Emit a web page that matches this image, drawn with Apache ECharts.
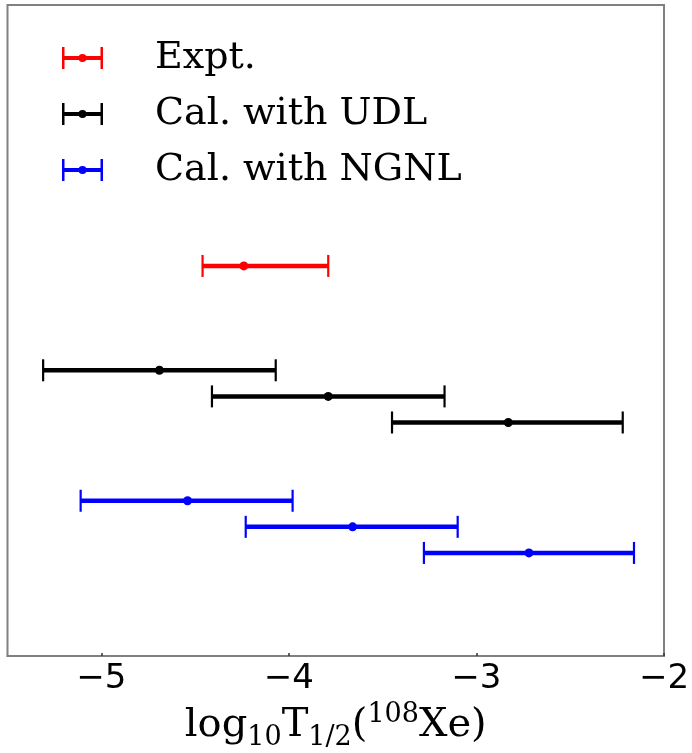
<!DOCTYPE html>
<html><head><meta charset="utf-8">
<script src="https://cdn.jsdelivr.net/npm/echarts@6/dist/echarts.min.js"></script>
<style>html,body{margin:0;padding:0;background:#fff}#c{width:692px;height:753px}</style>
</head><body><div id="c"></div>
<script>
// ---- data ----
const seriesNames = ['Expt.', 'Cal. with UDL', 'Cal. with NGNL'];
const xTicks = [-5, -4, -3, -2];
// Expt.
const exptCenter = [-4.24];
const exptLow = [-4.46];
const exptHigh = [-3.79];
const exptRow = [15];
// Cal. with UDL
const udlCenter = [-4.69, -3.79, -2.83];
const udlLow = [-5.31, -4.41, -3.45];
const udlHigh = [-4.07, -3.17, -2.22];
const udlRow = [11, 10, 9];
// Cal. with NGNL
const ngnlCenter = [-4.54, -3.66, -2.72];
const ngnlLow = [-5.11, -4.23, -3.28];
const ngnlHigh = [-3.98, -3.10, -2.16];
const ngnlRow = [6, 5, 4];

function rows(c, lo, hi, r) {
  return c.map((v, i) => [v, lo[i], hi[i], r[i]]);
}

function renderErr(params, api) {
  const y = api.value(3);
  const c = api.coord([api.value(0), y]);
  const lo = api.coord([api.value(1), y]);
  const hi = api.coord([api.value(2), y]);
  const color = api.visual('color');
  const h = 11;
  return {
    type: 'group',
    children: [
      { type: 'line', shape: { x1: lo[0], y1: lo[1], x2: hi[0], y2: hi[1] }, style: { stroke: color, lineWidth: 4.5 } },
      { type: 'line', shape: { x1: lo[0], y1: lo[1] - h, x2: lo[0], y2: lo[1] + h }, style: { stroke: color, lineWidth: 2.2 } },
      { type: 'line', shape: { x1: hi[0], y1: hi[1] - h, x2: hi[0], y2: hi[1] + h }, style: { stroke: color, lineWidth: 2.2 } },
      { type: 'circle', shape: { cx: c[0], cy: c[1], r: 4.5 }, style: { fill: color } }
    ]
  };
}

const errIcon = 'path://M0,9 L41,9 L41,13 L0,13 Z M0,0 L2.5,0 L2.5,22 L0,22 Z M38.5,0 L41,0 L41,22 L38.5,22 Z M16.5,11 A4,4 0 1,1 24.5,11 A4,4 0 1,1 16.5,11 Z';

const colors = ['#ff0000', '#000000', '#0000ff'];
const allData = [
  rows(exptCenter, exptLow, exptHigh, exptRow),
  rows(udlCenter, udlLow, udlHigh, udlRow),
  rows(ngnlCenter, ngnlLow, ngnlHigh, ngnlRow)
];

const chart = echarts.init(document.getElementById('c'), null, { renderer: 'canvas' });
chart.setOption({
  animation: false,
  backgroundColor: '#ffffff',
  grid: {
    left: 7.5, right: 28, top: 5, bottom: 97,
    outerBoundsMode: 'none', containLabel: false,
    show: true, borderColor: '#808080', borderWidth: 2, backgroundColor: 'transparent'
  },
  legend: {
    orient: 'vertical',
    left: 57, top: 34,
    itemWidth: 41, itemHeight: 22, itemGap: 18,
    selectedMode: false,
    data: seriesNames.map(n => ({ name: n, icon: errIcon })),
    textStyle: { fontFamily: 'DejaVu Serif', fontSize: 38, color: '#000', padding: [0, 0, 0, 47] }
  },
  xAxis: {
    type: 'value', min: -5.5, max: -2,
    splitLine: { show: false },
    axisLine: { show: true, onZero: false, lineStyle: { color: '#808080', width: 2 } },
    axisTick: { show: true, inside: true, length: 3, customValues: xTicks, lineStyle: { color: '#333', width: 1.5 } },
    axisLabel: {
      fontFamily: 'DejaVu Sans', fontSize: 34, color: '#000', margin: 6,
      customValues: xTicks,
      formatter: v => String(v).replace('-', '\u2212')
    },
    name: '{a|log}{sub|10}{a|T}{sub|1/2}{a|(}{sup|108}{a|Xe)}',
    nameLocation: 'middle', nameGap: 45,
    nameTextStyle: {
      rich: {
        a: { fontFamily: 'DejaVu Serif', fontSize: 40, color: '#000', lineHeight: 50, verticalAlign: 'middle' },
        sub: { fontFamily: 'DejaVu Serif', fontSize: 27, color: '#000', lineHeight: 29, verticalAlign: 'bottom' },
        sup: { fontFamily: 'DejaVu Serif', fontSize: 27, color: '#000', lineHeight: 38, verticalAlign: 'top' }
      }
    }
  },
  yAxis: {
    type: 'value', min: 0.05, max: 25,
    show: false
  },
  series: seriesNames.map((n, i) => ({
    name: n,
    type: 'custom',
    renderItem: renderErr,
    itemStyle: { color: colors[i] },
    encode: { x: [0, 1, 2], y: 3 },
    data: allData[i]
  }))
});
</script>
</body></html>
